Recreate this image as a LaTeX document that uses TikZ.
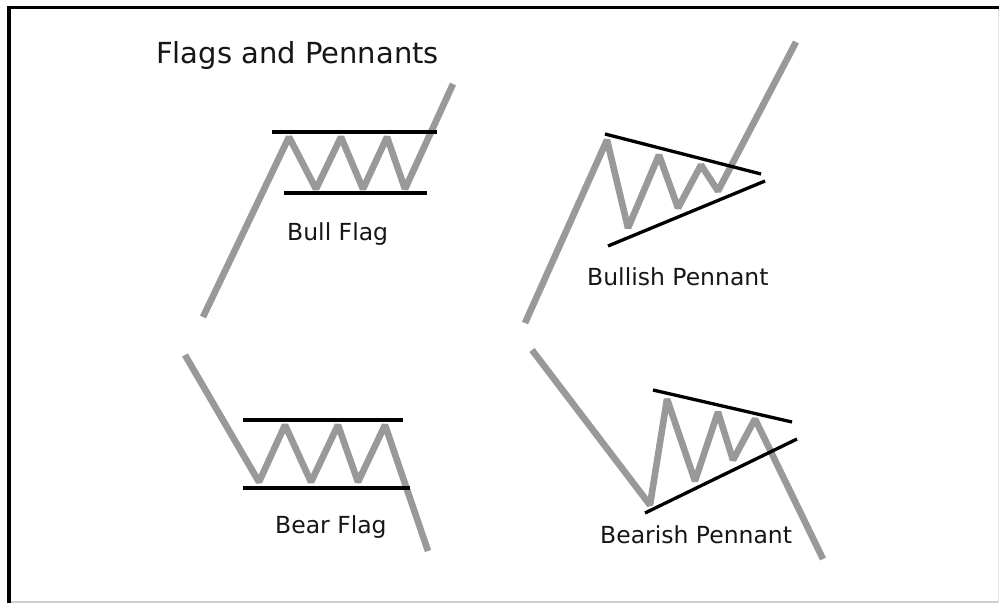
\documentclass[tikz,border=0pt]{standalone}
\usepackage{fontspec}
\setmainfont{DejaVu Sans}
\definecolor{pricegray}{HTML}{999999}
\definecolor{inkdark}{HTML}{161616}
\definecolor{edgegray}{HTML}{CFCFCF}
\begin{document}
\begin{tikzpicture}[x=1pt,y=-1pt,
  price/.style={draw=pricegray, line width=6.6pt, line join=bevel},
  bound/.style={draw=black, line width=3.3pt},
  caption/.style={font=\fontsize{23.5}{28}\selectfont, text=inkdark, anchor=base west, inner sep=0pt},
  heading/.style={font=\fontsize{29}{34}\selectfont, text=inkdark, anchor=base west, inner sep=0pt}]
\useasboundingbox (0,0) rectangle (999,603);
\fill[white] (0,0) rectangle (999,603);

% frame
\draw[draw=edgegray, line width=2pt] (9,601.5) -- (999,601.5);
\draw[draw=edgegray!60, line width=1pt] (998.5,8) -- (998.5,603);
\draw[draw=black, line width=3.5pt] (9,603) -- (9,7.5) -- (999,7.5);

% title
\node[heading] (title) at (156,63) {Flags and Pennants};

% bull flag
\draw[price] (203,317) -- (289,137) -- (316,189) -- (341,137) -- (363,189)
  -- (387,137) -- (405,189) -- (453,84);
\draw[bound] (272,132) -- (437,132);
\draw[bound] (284,193) -- (427,193);
\node[caption] (bullflag) at (287,240) {Bull Flag};

% bullish pennant
\draw[price] (525,323) -- (607,140) -- (628,228) -- (659,155) -- (678,208)
  -- (701,165) -- (718,191) -- (796,42);
\draw[bound] (605,134) -- (761,174);
\draw[bound] (608,246) -- (765,181);
\node[caption] (bullpen) at (587,285) {Bullish Pennant};

% bear flag
\draw[price] (185,355) -- (259,482) -- (285,425) -- (311,482) -- (338,425)
  -- (358,482) -- (385,425) -- (428,551);
\draw[bound] (243,420) -- (403,420);
\draw[bound] (243,488) -- (410,488);
\node[caption] (bearflag) at (275,533) {Bear Flag};

% bearish pennant
\draw[price] (532,350) -- (650,505) -- (667,399) -- (695,481) -- (718,412)
  -- (733,460) -- (755,419) -- (823,559);
\draw[bound] (653,390) -- (792,422);
\draw[bound] (645,513) -- (797,439);
\node[caption] (bearpen) at (600,543) {Bearish Pennant};
\end{tikzpicture}
\end{document}
